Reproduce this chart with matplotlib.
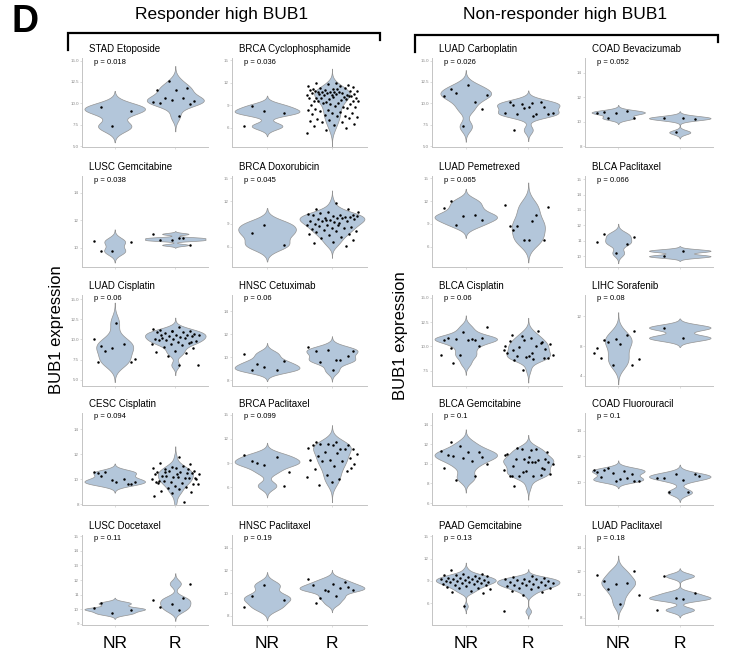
import numpy as np
import matplotlib
matplotlib.use("Agg")
import matplotlib.pyplot as plt
from matplotlib.lines import Line2D

plt.rcParams['font.family'] = ['Liberation Sans', 'DejaVu Sans']

# ---- BUB1 expression per patient (NR = non-responder, R = responder) ----
stad_etoposide_nr = [9.6, 9.1, 7.3]
stad_etoposide_r = [8.5, 10.0, 9.9, 10.4, 10.2, 10.6, 10.6, 10.3, 11.6, 11.6, 11.8, 12.6]

brca_cyclophosphamide_nr = [8.9, 7.9, 8.2, 6.2]
brca_cyclophosphamide_r = [12.0, 11.9, 11.7, 11.8, 11.5, 11.6, 11.3, 11.4, 11.2, 11.1, 11.3,
                           11.0, 10.9, 11.1, 10.8, 10.9, 10.7, 11.0, 10.6, 10.8, 10.5, 10.7,
                           10.9, 10.4, 10.6, 10.3, 10.8, 10.5, 10.2, 10.4, 10.6, 10.1, 10.3,
                           10.0, 10.5, 9.9, 10.2, 9.8, 10.0, 9.7, 9.9, 9.6, 10.1, 9.5, 9.8,
                           9.4, 9.6, 9.3, 9.5, 9.1, 9.2, 9.0, 8.8, 9.3, 8.7, 8.9, 8.5, 8.6,
                           8.3, 8.4, 8.1, 8.2, 7.9, 8.0, 7.8, 7.6, 7.7, 7.4, 7.5, 7.2, 7.3,
                           7.0, 6.9, 6.7, 6.8, 6.5, 6.3, 6.2, 5.9, 5.7, 5.3]

luad_carboplatin_nr = [11.7, 9.3, 7.3, 10.9, 10.2, 11.2, 11.0, 12.1]
luad_carboplatin_r = [10.1, 9.85, 9.6, 9.4, 8.9, 8.75, 8.75, 8.7, 9.6, 10.2, 10.2, 9.9, 8.9, 8.5, 6.9]

coad_bevacizumab_nr = [10.8, 10.3, 10.7, 10.7, 10.9, 10.3]
coad_bevacizumab_r = [10.35, 10.3, 10.25, 9.15]

lusc_gemcitabine_nr = [9.75, 10.4, 9.75, 10.5]
lusc_gemcitabine_r = [10.7, 10.55, 10.2, 10.55, 11.0, 10.7]

brca_doxorubicin_nr = [7.75, 6.2, 8.9]
brca_doxorubicin_r = [11.8, 11.0, 10.9, 10.6, 10.3, 10.2, 10.4, 10.1, 10.0, 10.2, 9.9, 9.8,
                      10.0, 9.7, 9.6, 9.9, 9.5, 9.4, 9.8, 9.3, 9.6, 9.2, 9.0, 9.4, 8.9, 8.8,
                      9.1, 8.7, 8.6, 8.5, 8.3, 8.4, 8.2, 8.0, 8.1, 7.9, 7.7, 7.5, 7.6, 7.3,
                      7.1, 6.9, 6.6, 6.4, 6.1, 9.5, 10.5, 8.9]

luad_pemetrexed_nr = [11.95, 9.5, 10.0, 11.05, 10.1, 8.8]
luad_pemetrexed_r = [9.3, 8.2, 6.85, 6.85, 11.5, 10.2, 8.7, 11.2, 6.85, 8.7]

blca_paclitaxel_nr = [11.45, 11.25, 10.2, 10.95, 10.8]
blca_paclitaxel_r = [10.35, 10.0]

luad_cisplatin_nr = [9.25, 7.2, 8.9, 10.1, 9.5, 8.6, 7.6, 12.1, 7.2]
luad_cisplatin_r = [11.5, 11.2, 11.1, 11.0, 11.3, 10.9, 10.8, 10.7, 10.6, 10.9, 10.5, 10.4,
                    10.6, 10.3, 10.2, 10.4, 10.1, 10.0, 10.2, 9.9, 9.8, 9.7, 9.9, 9.6, 9.5,
                    9.4, 9.3, 9.1, 8.9, 8.6, 8.4, 8.3, 8.0, 6.9, 6.8, 10.5, 9.7, 11.0]

hnsc_cetuximab_nr = [8.9, 9.7, 9.15, 10.3, 8.85, 9.4]
hnsc_cetuximab_r = [9.75, 10.5, 10.1, 10.65, 10.85, 9.75, 9.6, 10.5, 8.85]

blca_cisplatin_nr = [9.8, 10.9, 11.5, 10.6, 10.6, 10.8, 12.0, 10.7, 10.9, 10.05, 9.1, 9.1, 10.8, 8.25]
blca_cisplatin_r = [9.3, 9.6, 8.8, 10.7, 10.0, 10.05, 8.95, 8.8, 8.95, 10.5, 10.35, 11.05, 9.1,
                    8.65, 8.6, 9.7, 8.9, 9.35, 11.6, 9.9, 10.2, 10.9, 11.2, 10.4, 7.6, 9.6]

lihc_sorafenib_nr = [8.8, 10.0, 8.95, 7.7, 9.5, 8.6, 6.3, 8.3, 6.4, 5.4, 5.4, 7.0]
lihc_sorafenib_r = [9.1, 10.5]

cesc_cisplatin_nr = [10.25, 9.6, 9.95, 10.6, 10.0, 10.6, 9.8, 9.8, 10.5, 9.6]
cesc_cisplatin_r = [11.8, 11.3, 11.2, 11.0, 10.9, 11.1, 10.8, 10.7, 10.9, 10.6, 10.5, 10.7,
                    10.4, 10.6, 10.3, 10.5, 10.2, 10.4, 10.1, 10.3, 10.0, 10.2, 9.9, 10.1,
                    9.8, 10.0, 9.7, 9.9, 9.6, 9.5, 9.8, 9.4, 9.3, 9.6, 9.2, 9.1, 9.0, 8.9,
                    8.7, 8.2, 10.6, 10.1, 10.4, 9.7, 10.8]

brca_paclitaxel_nr = [9.2, 6.2, 8.8, 10.05, 9.7, 9.0, 7.95]
brca_paclitaxel_r = [11.55, 11.55, 11.2, 11.35, 10.9, 10.8, 11.35, 10.7, 11.2, 11.2, 10.7,
                     10.4, 10.15, 10.3, 9.85, 9.65, 9.4, 9.4, 9.3, 9.3, 8.9, 8.6, 8.3, 8.0,
                     7.5, 7.3, 7.0, 6.3, 8.4, 6.7]

blca_gemcitabine_nr = [12.2, 10.7, 10.6, 9.6, 8.8, 8.4, 10.0, 11.2, 10.9, 11.2, 11.8, 11.35, 10.3, 10.8]
blca_gemcitabine_r = [10.2, 9.8, 9.5, 10.5, 10.9, 11.5, 11.6, 10.2, 10.7, 8.8, 8.9, 11.5, 10.0,
                      8.8, 7.7, 10.5, 9.3, 11.0, 10.35, 8.8, 9.0, 11.4, 8.8, 9.6, 9.2, 9.4,
                      10.2, 10.45, 11.2, 10.2]

coad_fluorouracil_nr = [10.95, 10.1, 10.1, 10.8, 10.35, 11.1, 10.1, 10.2, 10.4, 10.6, 10.7, 10.95, 10.9]
coad_fluorouracil_r = [10.15, 10.35, 10.6, 10.6, 10.35, 9.2, 9.2, 10.45]

lusc_docetaxel_nr = [10.4, 9.95, 9.7, 10.05]
lusc_docetaxel_r = [9.9, 10.15, 11.75, 10.35, 10.6, 10.75]

hnsc_paclitaxel_nr = [9.75, 9.4, 10.7, 8.75]
hnsc_paclitaxel_r = [9.75, 9.1, 10.5, 10.2, 11.25, 10.45, 9.55, 10.3, 10.8, 10.7, 11.0, 10.3]

paad_gemcitabine_nr = [10.5, 10.0, 9.9, 9.8, 9.7, 9.75, 9.6, 9.5, 9.45, 9.4, 9.35, 9.3, 9.25,
                       9.2, 9.15, 9.1, 9.05, 9.0, 8.95, 8.9, 8.85, 8.8, 8.75, 8.7, 8.6, 8.55,
                       8.5, 8.4, 8.3, 8.2, 8.1, 8.0, 7.9, 7.7, 7.5, 7.4, 5.6]
paad_gemcitabine_r = [9.6, 9.5, 9.4, 9.3, 9.25, 9.2, 9.1, 9.0, 8.95, 8.9, 8.8, 8.75, 8.7,
                      8.6, 8.5, 8.45, 8.4, 8.3, 8.2, 8.1, 8.0, 7.9, 7.7, 7.5, 7.1, 4.9]

luad_paclitaxel_nr = [11.2, 12.05, 10.9, 11.65, 11.0, 10.45, 10.0, 9.2]
luad_paclitaxel_r = [9.65, 11.6, 10.1, 9.7, 8.7]

titles = ["STAD Etoposide", "BRCA Cyclophosphamide", "LUAD Carboplatin", "COAD Bevacizumab",
          "LUSC Gemcitabine", "BRCA Doxorubicin", "LUAD Pemetrexed", "BLCA Paclitaxel",
          "LUAD Cisplatin", "HNSC Cetuximab", "BLCA Cisplatin", "LIHC Sorafenib",
          "CESC Cisplatin", "BRCA Paclitaxel", "BLCA Gemcitabine", "COAD Fluorouracil",
          "LUSC Docetaxel", "HNSC Paclitaxel", "PAAD Gemcitabine", "LUAD Paclitaxel"]
p_values = ["0.018", "0.036", "0.026", "0.052",
            "0.038", "0.045", "0.065", "0.066",
            "0.06", "0.06", "0.06", "0.08",
            "0.094", "0.099", "0.1", "0.1",
            "0.11", "0.19", "0.13", "0.18"]
groups_nr = [stad_etoposide_nr, brca_cyclophosphamide_nr, luad_carboplatin_nr, coad_bevacizumab_nr,
             lusc_gemcitabine_nr, brca_doxorubicin_nr, luad_pemetrexed_nr, blca_paclitaxel_nr,
             luad_cisplatin_nr, hnsc_cetuximab_nr, blca_cisplatin_nr, lihc_sorafenib_nr,
             cesc_cisplatin_nr, brca_paclitaxel_nr, blca_gemcitabine_nr, coad_fluorouracil_nr,
             lusc_docetaxel_nr, hnsc_paclitaxel_nr, paad_gemcitabine_nr, luad_paclitaxel_nr]
groups_r = [stad_etoposide_r, brca_cyclophosphamide_r, luad_carboplatin_r, coad_bevacizumab_r,
            lusc_gemcitabine_r, brca_doxorubicin_r, luad_pemetrexed_r, blca_paclitaxel_r,
            luad_cisplatin_r, hnsc_cetuximab_r, blca_cisplatin_r, lihc_sorafenib_r,
            cesc_cisplatin_r, brca_paclitaxel_r, blca_gemcitabine_r, coad_fluorouracil_r,
            lusc_docetaxel_r, hnsc_paclitaxel_r, paad_gemcitabine_r, luad_paclitaxel_r]
y_ticks = [[5, 7.5, 10, 12.5, 15], [6, 9, 12, 15], [5, 7.5, 10, 12.5, 15], [8, 10, 12, 14],
           [10, 12, 14], [6, 9, 12, 15], [6, 9, 12, 15], [10, 11, 12, 13, 14, 15],
           [5, 7.5, 10, 12.5, 15], [8, 10, 12, 14], [7.5, 10, 12.5, 15], [4, 8, 12],
           [8, 10, 12, 14], [6, 9, 12, 15], [6, 8, 10, 12, 14], [10, 12, 14],
           [9, 10, 11, 12, 13, 14, 15], [8, 10, 12, 14], [6, 9, 12, 15], [8, 10, 12, 14]]
y_limits = [(4.9, 15.3), (3.4, 15.3), (4.9, 15.3), (7.95, 15.2),
            (8.6, 15.2), (3.3, 15.3), (3.3, 15.3), (9.3, 15.2),
            (4.25, 15.5), (7.5, 15.4), (5.9, 15.3), (2.6, 14.9),
            (7.95, 15.3), (3.8, 15.2), (5.8, 15.2), (8.2, 15.4),
            (8.9, 15.1), (7.2, 15.1), (3.05, 15.2), (7.4, 15.1)]
group_labels = ["NR", "R"]

# ---- layout (pixel boxes on a 730 x 653 canvas) ----
W, H = 730, 653
col_px = [(82, 208), (232, 367), (432, 562), (585, 713)]
row_px = [(58, 147), (176, 267), (295, 386), (413, 505), (535, 625)]

VIOLIN_FILL = "#b3c6da"
VIOLIN_EDGE = "#939393"
SPINE = "#c4c4c4"
HALF_WIDTH = 0.5


def fx(x):
    return x / W


def fy(y):
    return 1 - y / H


def density(vals, n_grid=512):
    """Gaussian KDE with Silverman's rule-of-thumb bandwidth, tails cut at 3 bw."""
    v = np.asarray(vals, float)
    n = len(v)
    sd = v.std(ddof=1)
    q75, q25 = np.percentile(v, [75, 25])
    lo = min(sd, (q75 - q25) / 1.34)
    if lo <= 0:
        lo = sd
    bw = 0.9 * lo * n ** -0.2
    ys = np.linspace(v.min() - 3 * bw, v.max() + 3 * bw, n_grid)
    d = np.exp(-0.5 * ((ys[:, None] - v[None, :]) / bw) ** 2).sum(1) / (n * bw * np.sqrt(2 * np.pi))
    return ys, d


def jitter(n, phase):
    k = np.arange(n)
    return ((k * 0.6180339887 + phase) % 1.0 - 0.5) * 0.8


fig = plt.figure(figsize=(W / 100, H / 100), dpi=100)

for i in range(20):
    r, c = divmod(i, 4)
    (l, rr), (t, b) = col_px[c], row_px[r]
    ax = fig.add_axes([fx(l), fy(b), (rr - l) / W, (b - t) / H])

    curves = [density(groups_nr[i]), density(groups_r[i])]
    dmax = max(d.max() for _, d in curves)
    for pos, (ys, d), vals, ph in zip([1, 2], curves, [groups_nr[i], groups_r[i]], [0.21, 0.57]):
        hw = d / dmax * HALF_WIDTH
        ax.fill_betweenx(ys, pos - hw, pos + hw, facecolor=VIOLIN_FILL,
                         edgecolor=VIOLIN_EDGE, linewidth=0.5, zorder=1)
        ax.scatter(pos + jitter(len(vals), ph), vals, s=3.2, c="black",
                   linewidths=0, zorder=3)

    ax.set_xlim(0.46, 2.54)
    ax.set_ylim(*y_limits[i])
    ticks = y_ticks[i]
    ax.set_yticks(ticks)
    if any(float(tk) != int(tk) for tk in ticks):
        ax.set_yticklabels([f"{tk:.1f}" for tk in ticks])
    else:
        ax.set_yticklabels([f"{int(tk)}" for tk in ticks])
    ax.set_xticks([1, 2])
    if r == 4:
        ax.set_xticklabels(group_labels, fontsize=12.5)
        ax.tick_params(axis="x", pad=7, labelcolor="black")
    else:
        ax.set_xticklabels(["", ""])
    ax.tick_params(axis="both", length=1.2, width=0.4, color=SPINE)
    ax.tick_params(axis="y", labelsize=3.2, labelcolor="#888888", pad=1)
    for s in ["top", "right"]:
        ax.spines[s].set_visible(False)
    for s in ["left", "bottom"]:
        ax.spines[s].set_color(SPINE)
        ax.spines[s].set_linewidth(0.7)
    ax.patch.set_alpha(0)

    fig.text(fx(l + 7), fy(t - 9), titles[i], fontsize=7, ha="left", va="center")
    fig.text(fx(l + 12), fy(t + 4), f"p = {p_values[i]}", fontsize=5.5, ha="left", va="center")

# ---- headers, brackets, shared labels ----
fig.text(fx(25), fy(22), "D", fontsize=27, fontweight="bold", ha="center", va="center")
fig.text(fx(222), fy(15), "Responder high BUB1", fontsize=12.5, ha="center", va="center")
fig.text(fx(565), fy(15), "Non-responder high BUB1", fontsize=12.5, ha="center", va="center")

for xs, ys in [([68, 68, 380, 380], [50, 33, 33, 40]),
               ([415, 415, 718, 718], [52, 35, 35, 42])]:
    fig.add_artist(Line2D([fx(x) for x in xs], [fy(y) for y in ys], color="black",
                          linewidth=1.6, solid_joinstyle="miter"))

fig.text(fx(57), fy(330), "BUB1 expression", fontsize=12, rotation=90, ha="center", va="center")
fig.text(fx(400), fy(336), "BUB1 expression", fontsize=12, rotation=90, ha="center", va="center")

fig.savefig("out.png", dpi=100, facecolor="white")
